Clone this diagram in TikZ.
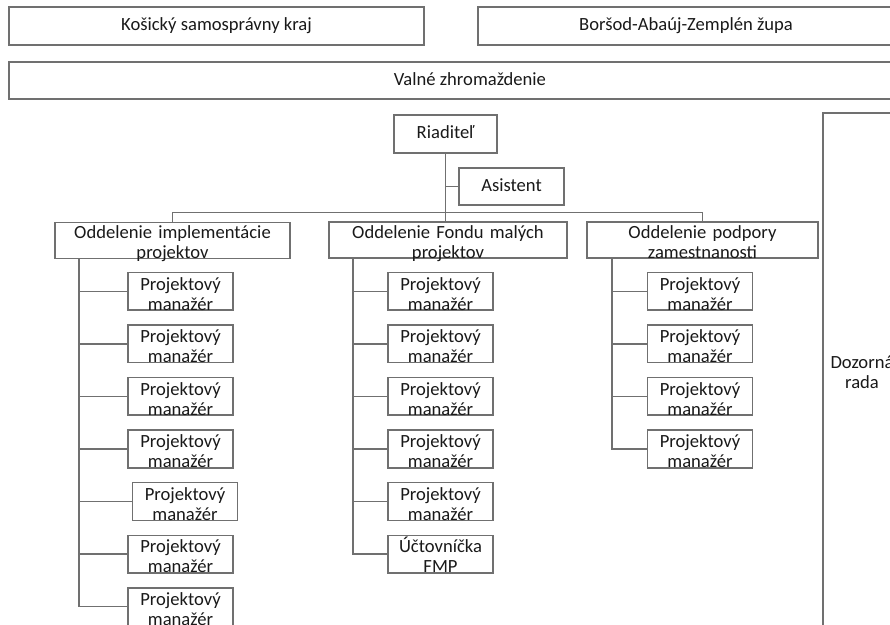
\documentclass[tikz,border=0pt]{standalone}
\usepackage{fontspec}
\setmainfont{Carlito}
\definecolor{linegray}{RGB}{112,112,112}
\definecolor{textdark}{RGB}{25,25,25}
\newcommand{\orgfont}{\fontsize{9.3bp}{10bp}\selectfont}

\tikzset{
  orgbox/.style={draw=linegray, line width=0.75bp, inner sep=0pt, text=textdark, font=\orgfont},
  onebox/.style={orgbox, text height=7bp, text depth=2bp},
  twobox/.style={orgbox, align=center, text height=8.75bp, text depth=10bp},
  deptbox/.style={twobox, text height=8bp},
  pmbox/.style={twobox, text width=52.5bp},
  orgline/.style={draw=linegray, line width=0.75bp},
}

\begin{document}
\begin{tikzpicture}[x=0.5bp, y=-0.5bp]
            \useasboundingbox (0,0) rectangle (890,625);
            \clip (0,0) rectangle (890,625);

            % Zakladatelia a valné zhromaždenie
            \node[onebox, minimum width=207.5bp, minimum height=19bp] (kraj) at (216.5,26) {Košický samosprávny kraj};
            \node[onebox, minimum width=208bp, minimum height=19bp] (zupa) at (686,26) {Boršod-Abaúj-Zemplén župa};
            \node[onebox, minimum width=461bp, minimum height=18.5bp] (valne) at (470,80.5) {Valné zhromaždenie};

            % Riaditeľ a asistent
            \node[onebox, minimum width=51.5bp, minimum height=19bp] (riad) at (445.5,134) {Riaditeľ};
            \node[onebox, minimum width=52.5bp, minimum height=18.5bp] (asis) at (511.5,186.5) {Asistent};

            % Dozorná rada
            \node[twobox, text width=39bp, minimum height=257bp] (rada) at (862,370) {Dozorná\\rada};

            % Oddelenia
            \node[deptbox, text width=117.5bp, anchor=north] (odda) at (172.5,222) {Oddelenie implementácie\\projektov};
            \node[deptbox, text width=119bp, anchor=north] (oddb) at (448,221.5) {Oddelenie Fondu malých\\projektov};
            \node[deptbox, text width=115.5bp, anchor=north] (oddc) at (702.5,221.5) {Oddelenie podpory\\zamestnanosti};

            % Projektoví manažéri
            \foreach \i/\x in {1/180.5, 2/180.5, 3/180.5, 4/180.5, 5/185, 6/180.5, 7/180.5} {
                \node[pmbox] (pma\i) at (\x, 239+52.5*\i) {Projektový\\manažér};
            }
            \foreach \i in {1,...,5} {
                \node[pmbox] (pmb\i) at (440.5, 239+52.5*\i) {Projektový\\manažér};
            }
            \node[pmbox] (ucto) at (440.5, 554) {Účtovníčka\\FMP};
            \foreach \i in {1,...,4} {
                \node[pmbox] (pmc\i) at (700, 239+52.5*\i) {Projektový\\manažér};
            }

            % Spojnice
            \draw[orgline] (riad.south) -- (riad.south |- oddb.north);
            \draw[orgline] (riad.south |- asis.west) -- (asis.west);
            \draw[orgline] (odda.north) -- ++(0,-9.5) -| (oddc.north);

            \coordinate (ta) at (79,0);
            \coordinate (tb) at (353,0);
            \coordinate (tc) at (612,0);
            \draw[orgline] (odda.south -| ta) |- (pma7.west);
            \foreach \i in {1,...,6} {
                \draw[orgline] (ta |- pma\i.west) -- (pma\i.west);
            }
            \draw[orgline] (oddb.south -| tb) |- (ucto.west);
            \foreach \i in {1,...,5} {
                \draw[orgline] (tb |- pmb\i.west) -- (pmb\i.west);
            }
            \draw[orgline] (oddc.south -| tc) |- (pmc4.west);
            \foreach \i in {1,...,3} {
                \draw[orgline] (tc |- pmc\i.west) -- (pmc\i.west);
            }
\end{tikzpicture}
\end{document}
